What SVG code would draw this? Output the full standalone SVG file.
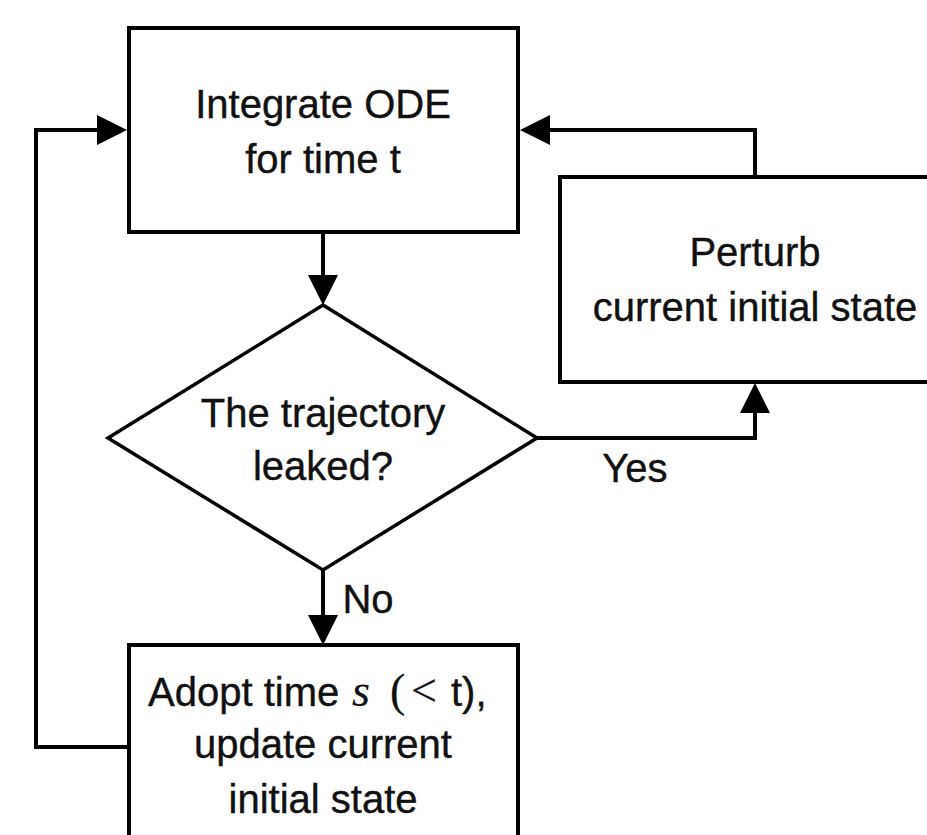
<svg xmlns="http://www.w3.org/2000/svg" width="927" height="835" viewBox="0 0 927 835">
  <defs>
    <marker id="arr" markerUnits="userSpaceOnUse" markerWidth="30" markerHeight="30" refX="0" refY="15" orient="auto">
      <path d="M0,0 L30,15 L0,30 z" fill="#000"/>
    </marker>
    <style>
      .box { fill: #fff; stroke: #000; stroke-width: 4; }
      .dia { fill: #fff; stroke: #000; stroke-width: 3.5; }
      .conn { fill: none; stroke: #000; stroke-width: 4; stroke-linejoin: miter; }
      .t { font-family: "Liberation Sans", Arial, sans-serif; font-size: 40px; fill: #111; stroke: #111; stroke-width: 0.4; text-anchor: middle; }
      .s { text-anchor: start; }
      .m { font-family: "Liberation Serif", "Times New Roman", serif; font-size: 46px; stroke-width: 0.2; }
    </style>
  </defs>
  <rect width="927" height="835" fill="#fff"/>

  <g id="connectors">
    <path class="conn" d="M323,232 L323,275" marker-end="url(#arr)"/>
    <path class="conn" d="M323,570 L323,615" marker-end="url(#arr)"/>
    <path class="conn" d="M537,438 L755,438 L755,413" marker-end="url(#arr)"/>
    <path class="conn" d="M755,177 L755,130 L550,130" marker-end="url(#arr)"/>
    <path class="conn" d="M129,747 L36,747 L36,130 L97,130" marker-end="url(#arr)"/>
  </g>

  <g id="integrate">
    <rect class="box" x="129" y="28" width="389" height="204"/>
    <text class="t" x="323" y="118">Integrate ODE</text>
    <text class="t" x="323" y="173">for time t</text>
  </g>

  <g id="leaked">
    <polygon class="dia" points="323,305 537,438 323,570 108,438"/>
    <text class="t" x="323" y="427">The trajectory</text>
    <text class="t" x="323" y="480">leaked?</text>
  </g>

  <g id="perturb">
    <rect class="box" x="560" y="177" width="390" height="205"/>
    <text class="t" x="755" y="266">Perturb</text>
    <text class="t" x="755" y="321">current initial state</text>
  </g>

  <g id="adopt">
    <rect class="box" x="129" y="645" width="389" height="220"/>
    <text class="t s" x="148" y="706">Adopt time<tspan class="m" x="352" font-style="italic">s</tspan><tspan class="m" x="390">(</tspan><tspan class="m" x="411">&lt;</tspan><tspan x="451">t),</tspan></text>
    <text class="t" x="323" y="758">update current</text>
    <text class="t" x="323" y="813">initial state</text>
  </g>

  <g id="labels">
    <text class="t" x="635" y="482">Yes</text>
    <text class="t" x="368" y="613">No</text>
  </g>
</svg>
